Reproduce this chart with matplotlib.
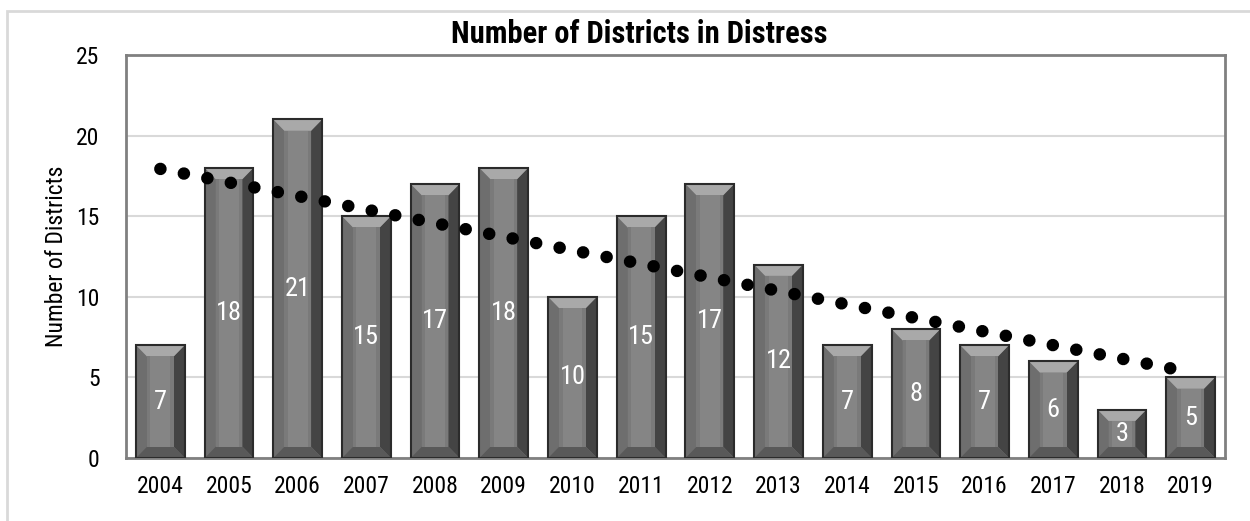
import matplotlib
matplotlib.use("Agg")
import matplotlib.pyplot as plt
import numpy as np
from matplotlib.patches import Polygon, Rectangle

plt.rcParams['font.family'] = ['Roboto Condensed', 'DejaVu Sans']

years = ['2004', '2005', '2006', '2007', '2008', '2009', '2010', '2011',
         '2012', '2013', '2014', '2015', '2016', '2017', '2018', '2019']
districts = [7, 18, 21, 15, 17, 18, 10, 15, 17, 12, 7, 8, 7, 6, 3, 5]
yticks = [0, 5, 10, 15, 20, 25]

W, H = 1250, 521
fig = plt.figure(figsize=(W / 100, H / 100), dpi=100)
ax = fig.add_axes([126 / W, (H - 458) / H, (1225 - 126) / W, (458 - 55) / H])

# outer chart frame (light gray, runs off the right/bottom edge)
fig.patches.append(Rectangle((7 / W, -0.1), 1.2, (H - 11) / H + 0.1,
                             transform=fig.transFigure, fill=False,
                             edgecolor='#d9d9d9', linewidth=2, zorder=0))

x = np.arange(len(years))
w = 0.71
ax.bar(x, districts, width=w, color='#777777', linewidth=0, zorder=2)

# bevel look on each bar
dx = 0.16
dy = 0.7
for i, v in enumerate(districts):
    x0, x1 = i - w / 2, i + w / 2
    top = [(x0, v), (x1, v), (x1 - dx, v - dy), (x0 + dx, v - dy)]
    bot = [(x0, 0), (x1, 0), (x1 - dx, dy), (x0 + dx, dy)]
    left = [(x0, 0), (x0, v), (x0 + dx, v - dy), (x0 + dx, dy)]
    right = [(x1, 0), (x1, v), (x1 - dx, v - dy), (x1 - dx, dy)]
    ax.add_patch(Polygon(left, closed=True, color='#6e6e6e', lw=0, zorder=3))
    ax.add_patch(Polygon(right, closed=True, color='#444444', lw=0, zorder=3))
    ax.add_patch(Polygon(bot, closed=True, color='#595959', lw=0, zorder=3))
    ax.add_patch(Polygon(top, closed=True, color='#a9a9a9', lw=0, zorder=3))
    # inner face, slightly lighter in the middle
    ax.add_patch(Rectangle((x0 + dx, dy), w - 2 * dx, v - 2 * dy,
                           color='#7a7a7a', lw=0, zorder=3))
    ax.add_patch(Rectangle((x0 + dx + 0.05, dy), w - 2 * dx - 0.1, v - 2 * dy,
                           color='#858585', lw=0, zorder=3))
    ax.add_patch(Rectangle((x0, 0), w, v, fill=False, edgecolor='#2b2b2b',
                           lw=1.5, zorder=4))
    ax.text(i, v / 2, str(v), ha='center', va='center', color='white',
            fontsize=19, zorder=5)

# linear trend line
coef = np.polyfit(x, districts, 1)
ax.plot(x, np.polyval(coef, x), color='black', linewidth=9,
        linestyle=(0, (0.01, 1.905)), dash_capstyle='round', zorder=6)

ax.set_xlim(-0.5, 15.5)
ax.set_ylim(0, 25)
ax.set_yticks(yticks)
ax.set_xticks(x)
ax.set_xticklabels(years)
ax.tick_params(axis='both', length=0, labelsize=17, colors='black')
ax.tick_params(axis='x', pad=12)
ax.tick_params(axis='y', pad=19)
ax.yaxis.grid(True, color='#d9d9d9', linewidth=1.5, zorder=0)
ax.set_axisbelow(True)
for s in ax.spines.values():
    s.set_color('#808080')
    s.set_linewidth(2)

ax.set_ylabel('Number of Districts', fontsize=17)
ax.yaxis.set_label_coords(-0.053, 0.5)
fig.text(639 / W, (H - 43) / H, 'Number of Districts in Distress',
         ha='center', va='baseline', fontsize=22, fontweight='bold')

fig.savefig('out.png', dpi=100)
